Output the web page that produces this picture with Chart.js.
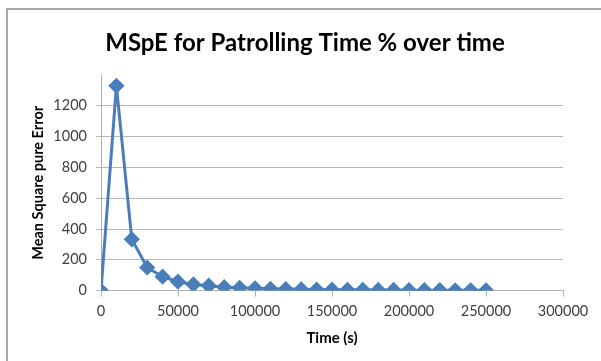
<!DOCTYPE html>
<html>
<head>
<meta charset="utf-8">
<script src="https://cdn.jsdelivr.net/npm/chart.js@4/dist/chart.umd.min.js"></script>
<style>
  html, body { margin: 0; padding: 0; background: #fff; overflow: hidden; }
  #frame { position: absolute; left: 6px; top: 8px; width: 700px; height: 400px;
           border-left: 2px solid #a9a9a9; border-top: 2px solid #a9a9a9; }
  canvas { position: absolute; left: 0; top: 0; }
</style>
</head>
<body>
<div id="frame"></div>
<canvas id="c" width="601" height="361"></canvas>
<script>
// Sampling times (seconds)
const times = [0, 10000, 20000, 30000, 40000, 50000, 60000, 70000, 80000, 90000,
  100000, 110000, 120000, 130000, 140000, 150000, 160000, 170000, 180000, 190000,
  200000, 210000, 220000, 230000, 240000, 250000];
// Mean square pure error at each time
const mspe = [0, 1330, 333, 150, 90, 58, 40, 32, 22, 18,
  15, 12, 10, 8, 7, 6, 5, 5, 4, 4,
  3, 3, 3, 2, 2, 2];
const xTicks = [0, 50000, 100000, 150000, 200000, 250000, 300000];
const yTicks = [0, 200, 400, 600, 800, 1000, 1200];
const chartTitle = 'MSpE for Patrolling Time % over time';

const FONT = 'Lato, "Open Sans", sans-serif';
const BLUE = '#4A7EBB';

// Main heading, centred over the whole chart frame
const headingPlugin = {
  id: 'heading',
  afterDraw(chart, args, opts) {
    const ctx = chart.ctx;
    ctx.save();
    ctx.font = `bold ${opts.size}px ${FONT}`;
    ctx.fillStyle = opts.color;
    ctx.textAlign = 'center';
    ctx.textBaseline = 'middle';
    ctx.fillText(opts.text, opts.x, opts.y);
    ctx.restore();
  }
};

new Chart(document.getElementById('c'), {
  type: 'line',
  data: {
    datasets: [{
      label: 'MSpE',
      data: times.map((t, i) => ({ x: t, y: mspe[i] })),
      borderColor: BLUE,
      backgroundColor: BLUE,
      borderWidth: 3,
      pointStyle: 'rectRot',
      pointRadius: 6,
      pointHoverRadius: 6,
      tension: 0
    }]
  },
  plugins: [headingPlugin],
  options: {
    responsive: false,
    animation: false,
    events: [],
    layout: { padding: { left: 0, right: 38, top: 75, bottom: 14 } },
    plugins: {
      legend: { display: false },
      tooltip: { enabled: false },
      title: { display: false },
      heading: { text: chartTitle, x: 305, y: 43, size: 24, color: '#000' }
    },
    scales: {
      x: {
        type: 'linear',
        min: 0, max: 300000,
        afterBuildTicks: s => { s.ticks = xTicks.map(v => ({ value: v })); },
        ticks: { color: '#404040', font: { family: FONT, size: 14.5 }, padding: 6, maxRotation: 0,
                 callback: v => String(v) },
        grid: { drawOnChartArea: false, drawTicks: true, tickLength: 6, color: '#b0b0b0' },
        border: { color: '#b0b0b0', width: 1 },
        title: { display: true, text: 'Time (s)', color: '#000',
                 font: { family: FONT, size: 15, weight: 'bold' }, padding: { top: 3, bottom: 0 } }
      },
      y: {
        min: 0, max: 1400,
        afterBuildTicks: s => { s.ticks = yTicks.map(v => ({ value: v })); },
        afterFit: s => { s.width = 101; },
        ticks: { color: '#404040', font: { family: FONT, size: 14.5 }, padding: 9,
                 callback: v => String(v) },
        grid: { color: '#b8b8b8', tickLength: 5, lineWidth: 1 },
        border: { color: '#b0b0b0', width: 1 },
        title: { display: true, text: 'Mean Square pure Error', color: '#000',
                 font: { family: FONT, size: 14.5, weight: 'bold' }, padding: { top: 30, bottom: 0 } }
      }
    }
  }
});
</script>
</body>
</html>
